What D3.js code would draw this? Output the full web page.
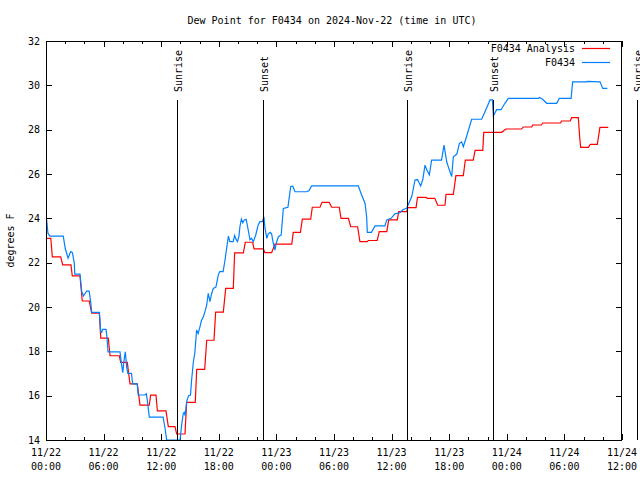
<!DOCTYPE html>
<html>
<head>
<meta charset="utf-8">
<script src="https://cdn.jsdelivr.net/npm/d3@7"></script>
<style>
  html, body { margin: 0; padding: 0; background: #fff; }
  text { font-family: "DejaVu Sans Mono", "Liberation Mono", monospace; font-size: 10px; fill: #000; }
</style>
</head>
<body>
<svg id="chart" width="640" height="480"></svg>
<script>
// ---- data (hours after 2024-11-22 00:00 UTC, dew point in degrees F) ----
const titleText = "Dew Point for F0434 on 2024-Nov-22 (time in UTC)";
const yLabel = "degrees F";
const seriesNames = ["F0434 Analysis", "F0434"];
const seriesColors = ["#ff0000", "#0080ff"];

const analysisHours = [0, 0.5, 0.66, 1.53, 1.74, 2.6, 2.74, 3.54, 3.78, 4.51, 4.76, 5.56, 5.7, 6.49, 6.67, 7.64, 7.78, 8.47, 8.6, 8.75, 9.51, 9.79, 10.76, 10.9, 11.46, 11.6, 12.5, 12.74, 13.44, 13.61, 14.48, 14.65, 15.55, 15.7, 16.53, 16.74, 17.5, 17.67, 18.47, 18.72, 19.51, 19.65, 20.56, 20.76, 21.53, 21.67, 22.64, 22.8, 23.5, 23.85, 25.6, 25.76, 26.5, 26.7, 27.57, 27.74, 28.54, 28.75, 29.5, 29.76, 30.55, 30.73, 31.5, 31.74, 32.46, 32.7, 33.47, 33.57, 34.5, 34.72, 35.5, 35.7, 36.6, 36.74, 37.57, 37.7, 38.55, 38.7, 39.6, 39.7, 40.5, 40.8, 41.56, 41.67, 42.43, 42.7, 43.47, 43.68, 44.5, 44.7, 45.5, 45.6, 47.47, 47.9, 49.55, 49.7, 50.6, 50.7, 51.6, 51.75, 53.6, 53.7, 54.6, 54.76, 55.45, 55.6, 55.7, 56.5, 56.7, 57.43, 57.7, 58.57];
const analysisValues = [23.1, 23.1, 22.26, 22.26, 21.9, 21.9, 21.4, 21.4, 20.27, 20.27, 19.72, 19.72, 18.6, 18.6, 17.8, 17.8, 17.5, 17.5, 17.04, 16.53, 16.53, 15.57, 15.57, 16.02, 16.02, 15.31, 15.31, 14.6, 14.6, 14.27, 14.27, 15.7, 15.7, 17.19, 17.19, 18.5, 18.5, 19.77, 19.77, 20.84, 20.84, 22.44, 22.44, 22.92, 22.92, 22.62, 22.62, 22.45, 22.45, 22.84, 22.84, 23.37, 23.37, 23.96, 23.96, 24.5, 24.5, 24.72, 24.72, 24.5, 24.5, 24.0, 24.0, 23.62, 23.62, 22.95, 22.95, 23.0, 23.0, 23.4, 23.4, 23.93, 23.93, 24.3, 24.3, 24.48, 24.48, 24.95, 24.95, 24.9, 24.9, 24.59, 24.59, 25.08, 25.08, 25.93, 25.93, 26.63, 26.63, 27.07, 27.07, 27.88, 27.88, 28.03, 28.03, 28.12, 28.12, 28.21, 28.21, 28.3, 28.3, 28.39, 28.39, 28.54, 28.54, 27.6, 27.2, 27.2, 27.34, 27.34, 28.1, 28.1];

const obsHours = [0.07, 0.2, 0.4, 1.8, 2.0, 2.3, 2.57, 2.75, 2.95, 3.0, 3.54, 3.72, 3.9, 4.24, 4.5, 4.65, 4.76, 5.56, 5.7, 5.8, 5.9, 6.25, 6.35, 6.46, 7.71, 7.85, 8.0, 8.1, 8.26, 8.4, 8.52, 8.9, 9.03, 9.5, 9.6, 10.3, 10.45, 10.55, 10.76, 12.2, 12.4, 12.57, 13.96, 14.13, 14.3, 14.4, 14.5, 14.65, 14.85, 15.05, 15.17, 15.35, 15.5, 15.69, 15.85, 16.04, 16.2, 16.38, 16.56, 16.74, 16.9, 17.08, 17.25, 17.43, 17.7, 17.95, 18.1, 18.45, 18.65, 18.8, 19.0, 19.15, 19.5, 19.65, 19.8, 19.95, 20.1, 20.2, 20.35, 20.5, 20.65, 20.85, 21.0, 21.25, 21.4, 21.6, 21.85, 22.1, 22.3, 22.55, 22.7, 22.8, 23.0, 23.15, 23.35, 23.5, 23.68, 23.85, 24.0, 24.2, 24.5, 24.72, 25.2, 25.49, 25.7, 25.94, 27.15, 27.4, 27.67, 32.53, 32.88, 33.23, 33.4, 33.47, 33.9, 34.27, 35.3, 35.5, 35.95, 36.35, 36.85, 37.2, 37.57, 38.1, 38.44, 38.7, 39.03, 39.25, 39.48, 39.65, 39.93, 40.17, 41.2, 41.46, 41.74, 42.0, 42.26, 42.43, 42.8, 43.06, 43.3, 43.47, 43.8, 44.34, 45.38, 45.73, 46.25, 46.5, 46.6, 46.94, 47.4, 47.8, 48.16, 51.28, 51.4, 51.7, 52.15, 53.2, 53.47, 54.7, 54.86, 56.3, 56.4, 57.7, 58.0, 58.47];
const obsValues = [23.93, 23.33, 23.2, 23.2, 22.65, 22.2, 22.5, 22.45, 21.97, 21.48, 21.48, 20.7, 20.5, 20.72, 20.72, 20.24, 19.76, 19.76, 18.89, 18.85, 18.99, 18.99, 18.66, 17.98, 17.98, 17.46, 17.04, 17.5, 17.98, 17.3, 17.01, 17.01, 16.53, 16.53, 16.03, 16.03, 16.08, 15.8, 15.03, 15.03, 14.53, 14.0, 14.0, 14.68, 15.2, 15.25, 15.1, 15.73, 16.0, 16.03, 16.71, 17.53, 17.91, 18.96, 18.8, 19.11, 19.4, 19.55, 19.79, 20.09, 20.62, 20.24, 20.6, 20.84, 20.9, 21.45, 21.6, 21.6, 22.12, 22.6, 23.2, 22.95, 22.95, 23.22, 23.05, 22.95, 23.2, 23.62, 23.96, 23.8, 23.93, 23.96, 23.62, 23.03, 23.1, 22.95, 23.25, 23.7, 23.85, 23.85, 24.07, 23.6, 23.1, 23.3, 23.37, 23.3, 22.87, 22.57, 22.9, 23.17, 23.25, 24.45, 24.5, 25.43, 25.46, 25.2, 25.2, 25.25, 25.46, 25.46, 25.05, 24.68, 24.07, 23.37, 23.37, 23.66, 23.66, 23.93, 24.0, 24.2, 24.25, 24.4, 24.45, 24.98, 25.73, 25.75, 25.46, 25.75, 26.4, 26.2, 25.96, 26.63, 26.63, 27.3, 26.55, 26.2, 25.88, 26.78, 26.9, 27.38, 27.45, 27.23, 27.68, 28.47, 28.47, 28.81, 29.34, 29.34, 28.62, 28.9, 28.9, 29.19, 29.41, 29.41, 29.45, 29.38, 29.19, 29.19, 29.41, 29.41, 30.16, 30.16, 30.18, 30.16, 29.86, 29.86];

const sunEventLabels = ["Sunrise", "Sunset", "Sunrise", "Sunset", "Sunrise"];
const sunEventHours = [13.65, 22.64, 37.6, 46.56, 61.56];

const yTicks = [14, 16, 18, 20, 22, 24, 26, 28, 30, 32];
const startTime = Date.UTC(2024, 10, 22, 0, 0);
const endTime = Date.UTC(2024, 10, 24, 12, 0);

// ---- layout ----
const L = 46, R = 622, T = 41, B = 440;
const svg = d3.select("#chart");
svg.append("rect").attr("width", 640).attr("height", 480).attr("fill", "#fff");

const toDate = h => new Date(startTime + h * 3600e3);
const x = d3.scaleUtc().domain([new Date(startTime), new Date(endTime)]).range([L, R]);
const y = d3.scaleLinear().domain([14, 32]).range([B, T]);
const frac = d3.scaleLinear().domain([0, 1]).range([B, T]);

// ticks
const majorTicks = d3.utcHour.every(6).range(new Date(startTime), new Date(endTime + 1));
const minorTicks = d3.utcHour.every(2).range(new Date(startTime), new Date(endTime + 1)).filter(d => d.getUTCHours() % 6 !== 0);

const tickG = svg.append("g").attr("stroke", "#000").attr("stroke-width", 1).attr("shape-rendering", "crispEdges");
majorTicks.forEach(d => {
  const px = Math.round(x(d)) + 0.5;
  tickG.append("line").attr("x1", px).attr("x2", px).attr("y1", B).attr("y2", B - 6);
  tickG.append("line").attr("x1", px).attr("x2", px).attr("y1", T).attr("y2", T + 6);
});
minorTicks.forEach(d => {
  const px = Math.round(x(d)) + 0.5;
  tickG.append("line").attr("x1", px).attr("x2", px).attr("y1", B).attr("y2", B - 3);
  tickG.append("line").attr("x1", px).attr("x2", px).attr("y1", T).attr("y2", T + 3);
});
yTicks.forEach(v => {
  const py = Math.round(y(v)) + 0.5;
  tickG.append("line").attr("x1", L).attr("x2", L + 6).attr("y1", py).attr("y2", py);
  tickG.append("line").attr("x1", R).attr("x2", R - 6).attr("y1", py).attr("y2", py);
});

// tick labels
const fmtDay = d3.utcFormat("%m/%d"), fmtTime = d3.utcFormat("%H:%M");
majorTicks.forEach(d => {
  const t = svg.append("text").attr("x", x(d)).attr("text-anchor", "middle");
  t.append("tspan").attr("x", x(d)).attr("y", 456).text(fmtDay(d));
  t.append("tspan").attr("x", x(d)).attr("y", 470).text(fmtTime(d));
});
yTicks.forEach(v => {
  svg.append("text").attr("x", 40).attr("y", y(v)).attr("dy", "0.35em")
    .attr("text-anchor", "end").text(v);
});

// series
const lineGen = d3.line().x(d => x(d[0])).y(d => y(d[1]));
const analysisData = analysisHours.map((h, i) => [toDate(h), analysisValues[i]]);
const obsData = obsHours.map((h, i) => [toDate(h), obsValues[i]]);

svg.append("defs").append("clipPath").attr("id", "clip")
  .append("rect").attr("x", L).attr("y", T).attr("width", R - L).attr("height", B - T);

const plotG = svg.append("g").attr("clip-path", "url(#clip)");
plotG.append("path").datum(analysisData).attr("d", lineGen)
  .attr("fill", "none").attr("stroke", seriesColors[0]).attr("stroke-width", 1.2);
plotG.append("path").datum(obsData).attr("d", lineGen)
  .attr("fill", "none").attr("stroke", seriesColors[1]).attr("stroke-width", 1.2);

// sunrise / sunset markers
sunEventHours.forEach((h, i) => {
  const px = Math.round(x(toDate(h))) + 0.5;
  svg.append("line").attr("x1", px).attr("x2", px)
    .attr("y1", frac(0)).attr("y2", frac(0.852))
    .attr("stroke", "#000").attr("stroke-width", 1).attr("shape-rendering", "crispEdges");
  svg.append("text")
    .attr("transform", `translate(${px + 4},${frac(0.872)}) rotate(-90)`)
    .attr("text-anchor", "start").text(sunEventLabels[i]);
});

// frame
svg.append("rect").attr("x", L + 0.5).attr("y", T + 0.5).attr("width", R - L - 1).attr("height", B - T)
  .attr("fill", "none").attr("stroke", "#000").attr("stroke-width", 1).attr("shape-rendering", "crispEdges");

// title & axis label
svg.append("text").attr("x", 332).attr("y", 24).attr("text-anchor", "middle").text(titleText);
svg.append("text").attr("transform", `translate(14,${(T + B) / 2}) rotate(-90)`)
  .attr("text-anchor", "middle").text(yLabel);

// legend
const legendY = [48, 62];
seriesNames.forEach((name, i) => {
  svg.append("text").attr("x", 575).attr("y", legendY[i]).attr("dy", "0.35em")
    .attr("text-anchor", "end").text(name);
  svg.append("line").attr("x1", 582).attr("x2", 610).attr("y1", legendY[i] + 0.5).attr("y2", legendY[i] + 0.5)
    .attr("stroke", seriesColors[i]).attr("stroke-width", 1.2);
});
</script>
</body>
</html>
